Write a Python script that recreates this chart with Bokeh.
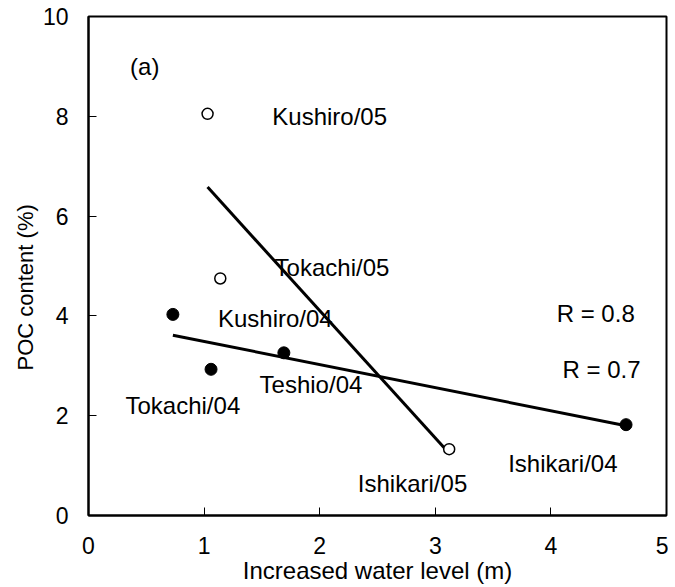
import numpy as np
from bokeh.plotting import figure
from bokeh.models import Range1d, FixedTicker, Label, Title
from bokeh.embed import file_html
from bokeh.resources import INLINE
from bokeh.core.properties import value

# 2004 survey (filled circles)
x04 = [0.73, 1.06, 1.69, 4.65]
y04 = [4.03, 2.93, 3.26, 1.82]
# 2005 survey (open circles)
x05 = [1.03, 1.14, 3.12]
y05 = [8.05, 4.75, 1.33]

# station labels
names = ["Kushiro/05", "Tokachi/05", "Kushiro/04", "Tokachi/04",
         "Teshio/04", "Ishikari/05", "Ishikari/04"]
name_x = [1.59, 1.61, 1.12, 0.32, 1.48, 2.33, 3.63]
name_y = [8.0, 4.97, 3.94, 2.2, 2.63, 0.64, 1.05]

r_texts = ["R = 0.8", "R = 0.7"]
r_x = [4.05, 4.10]
r_y = [4.05, 2.92]

x_ticks = [0, 1, 2, 3, 4, 5]
y_ticks = [0, 2, 4, 6, 8, 10]

FONT = "Liberation Sans"
FS = "24px"

p = figure(frame_width=578, frame_height=499,
           x_range=Range1d(0, 5), y_range=Range1d(0, 10),
           output_backend="svg", toolbar_location=None,
           min_border_left=88, min_border_top=16, min_border_right=2,
           min_border_bottom=0)
p.background_fill_color = "white"
p.border_fill_color = "white"
p.outline_line_color = "black"
p.outline_line_width = 2
p.xgrid.visible = False
p.ygrid.visible = False

p.xaxis.ticker = FixedTicker(ticks=x_ticks)
p.yaxis.ticker = FixedTicker(ticks=y_ticks)
for ax in (p.xaxis, p.yaxis):
    ax.axis_line_width = 2
    ax.axis_line_color = "black"
    ax.major_tick_in = 8
    ax.major_tick_out = 0
    ax.major_tick_line_color = "black"
    ax.major_tick_line_width = 1
    ax.minor_tick_line_color = None
    ax.major_label_text_font = FONT
    ax.major_label_text_font_size = "23px"
    ax.major_label_text_color = "black"
    ax.axis_label_text_font = FONT
    ax.axis_label_text_font_size = "24px"
    ax.axis_label_text_font_style = "normal"
    ax.axis_label_text_color = "black"
p.xaxis.axis_label = "Increased water level (m)"
p.xaxis.major_label_standoff = 21
p.yaxis.major_label_standoff = 20
p.xaxis.axis_label_standoff = 0

# y-axis title, placed lower than centre as in the reference
p.add_layout(Title(text="POC content (%)", align="left", offset=145, standoff=4,
                   text_font=FONT, text_font_size="22px", text_font_style="normal",
                   text_color="black"), "left")

# regression lines
for xs, ys in ((x04, y04), (x05, y05)):
    k, b = np.polyfit(xs, ys, 1)
    xl = np.array([min(xs), max(xs)])
    p.line(xl, k * xl + b, line_color="black", line_width=3)

p.scatter(x04, y04, size=12, marker="circle", fill_color="black", line_color="black")
p.scatter(x05, y05, size=11, marker="circle", fill_color="white", line_color="black",
          line_width=1.5)

p.text(name_x, name_y, text=names, text_font=value(FONT), text_font_size=FS,
       text_align="left", text_baseline="middle", text_color="black")
p.text(r_x, r_y, text=r_texts, text_font=value(FONT), text_font_size=FS,
       text_align="left", text_baseline="middle", text_color="black")
p.add_layout(Label(x=0.36, y=9.0, text="(a)", text_font=FONT, text_font_size=FS,
                   text_align="left", text_baseline="middle", text_color="black"))

open("out.html", "w").write(file_html(p, INLINE))
